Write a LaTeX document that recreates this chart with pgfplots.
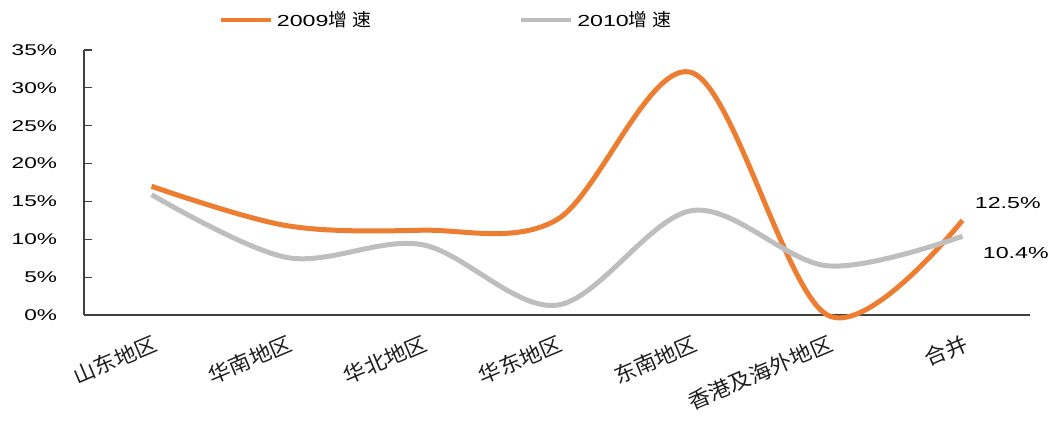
\documentclass[border=0pt]{standalone}
\usepackage{pgfplots}
\pgfplotsset{compat=1.18}
\usepackage{fontspec}
\setmainfont{Liberation Sans}[FakeStretch=1.45]
\newfontfamily\cjk{Noto Sans CJK SC}[FakeStretch=1.05]
\definecolor{org}{RGB}{237,125,49}
\definecolor{gry}{RGB}{190,190,190}
\definecolor{axc}{RGB}{64,64,64}
\definecolor{lbl}{RGB}{30,30,30}
\begin{document}
\begin{tikzpicture}
\begin{axis}[
  scale only axis,
  width=473bp, height=132.5bp,
  xmin=-0.5, xmax=6.5, ymin=0, ymax=35,
  axis x line*=bottom, axis y line*=left,
  axis line style={axc, line width=0.6bp},
  x axis line style={-}, y axis line style={-},
  xtick={0,...,6},
  xticklabels={{\cjk 山东地区},{\cjk 华南地区},{\cjk 华北地区},{\cjk 华东地区},{\cjk 东南地区},{\cjk 香港及海外地区},{\cjk 合并}},
  extra x ticks={-0.5,0.5,1.5,2.5,3.5,4.5,5.5,6.5},
  extra x tick labels={},
  extra x tick style={major tick length=4bp, tick style={axc, line width=0.6bp}, tick align=inside},
  x tick style={draw=none},
  xticklabel style={rotate=23, anchor=north east, text=lbl, font=\fontsize{10.5bp}{12bp}\selectfont, xshift=0bp, yshift=-5bp},
  ytick={0,5,...,35},
  yticklabel={\pgfmathprintnumber{\tick}\%},
  yticklabel style={font=\fontsize{7.8bp}{9bp}\selectfont, xshift=-10bp},
  /pgf/number format/assume math mode=true,
  y tick style={axc, line width=0.6bp},
  tick align=inside, major tick length=4bp,
  clip=false,
  legend columns=2,
  legend style={at={(rel axis cs:0.384,1.113)}, anchor=center, draw=none, fill=none,
    font=\fontsize{8bp}{9bp}\selectfont,
    /tikz/every even column/.append style={column sep=72bp},
    inner sep=0pt},
  legend image code/.code={\draw[#1, line width=2bp] (0bp,0bp) -- (25bp,0bp);},
]
\addplot[org, line width=2.5bp, smooth, tension=0.55] coordinates {
  (0,17.0) (1,11.8) (2,11.2) (3,12.6) (4,32.0) (5,0.0) (6,12.5)};
\addlegendentry{2009{\cjk\fontsize{9bp}{10bp}\selectfont 增\hspace{2.5bp}速}}
\addplot[gry, line width=2.5bp, smooth, tension=0.55] coordinates {
  (0,15.9) (1,7.6) (2,9.3) (3,1.3) (4,13.8) (5,6.5) (6,10.4)};
\addlegendentry{2010{\cjk\fontsize{9bp}{10bp}\selectfont 增\hspace{2.5bp}速}}
\node[anchor=west, inner sep=0pt, font=\fontsize{8bp}{9bp}\selectfont] at ([shift={(6bp,8.5bp)}]axis cs:6,12.5) {12.5\%};
\node[anchor=west, inner sep=0pt, font=\fontsize{8bp}{9bp}\selectfont] at ([shift={(10bp,-8.5bp)}]axis cs:6,10.4) {10.4\%};
\path (rel axis cs:-0.0888,-0.3283) (rel axis cs:1.0317,1.1887);
\end{axis}
\end{tikzpicture}
\end{document}
